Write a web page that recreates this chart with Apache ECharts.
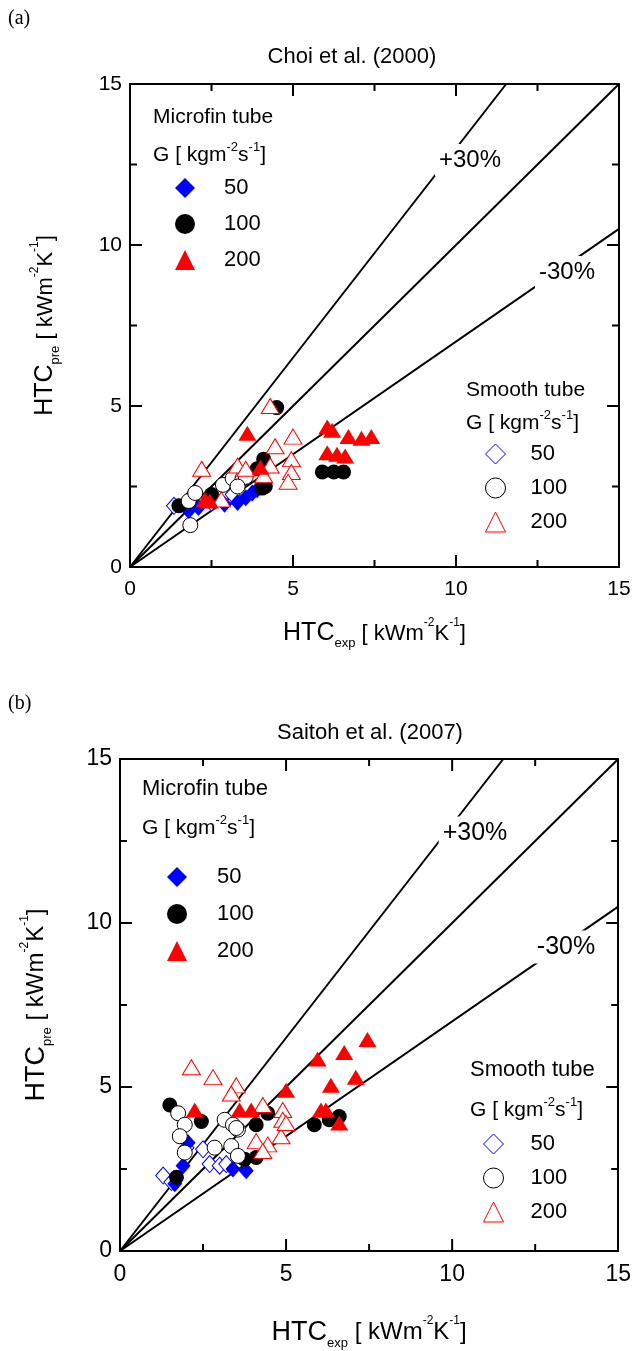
<!DOCTYPE html>
<html>
<head>
<meta charset="utf-8">
<script src="https://cdn.jsdelivr.net/npm/echarts@6/dist/echarts.min.js"></script>
<style>
html, body { margin: 0; padding: 0; background: #fff; }
#chart { width: 634px; height: 1351px; }
</style>
</head>
<body>
<div id="chart"></div>
<script>
// (a) Choi et al. (2000)  -- [HTC_exp, HTC_pre]
var aMicro50 = [[1.8, 1.75], [2.1, 1.85], [2.9, 1.95], [3.3, 2.0], [3.55, 2.15], [3.75, 2.3], [3.9, 2.4]];
var aMicro100 = [[1.5, 1.9], [2.5, 2.25], [3.9, 3.05], [4.1, 3.35], [4.05, 2.45], [4.15, 2.5], [4.5, 4.95], [5.9, 2.95], [6.25, 2.95], [6.55, 2.95]];
var aMicro200 = [[2.3, 2.1], [2.45, 2.05], [3.6, 4.15], [4.0, 3.1], [6.05, 4.35], [6.2, 4.25], [6.7, 4.05], [7.1, 4.0], [7.4, 4.05], [6.05, 3.55], [6.35, 3.5], [6.6, 3.45]];
var aSmooth50 = [[1.35, 1.9], [3.15, 2.25], [2.5, 2.0]];
var aSmooth100 = [[1.85, 1.3], [1.8, 2.05], [2.0, 2.3], [2.85, 2.55], [3.15, 2.75], [3.45, 2.75], [3.55, 2.8], [3.3, 2.5]];
var aSmooth200 = [[4.3, 5.0], [2.2, 3.05], [3.3, 3.15], [3.55, 3.05], [4.1, 2.85], [4.3, 3.15], [4.45, 3.75], [5.0, 4.05], [4.95, 3.35], [4.95, 2.95], [4.85, 2.65], [2.8, 2.1]];

// (b) Saitoh et al. (2007)
var bMicro50 = [[1.65, 2.05], [1.9, 2.6], [2.05, 3.3], [3.4, 2.5], [3.8, 2.45]];
var bMicro100 = [[1.5, 4.45], [1.7, 2.25], [2.45, 3.95], [3.75, 2.8], [4.1, 2.85], [4.1, 3.85], [4.45, 4.2], [5.85, 3.85], [6.6, 4.1], [6.3, 4.0]];
var bMicro200 = [[2.25, 4.3], [3.6, 4.3], [3.95, 4.3], [5.0, 4.9], [5.95, 5.85], [6.75, 6.05], [7.45, 6.45], [7.1, 5.3], [6.35, 5.05], [6.05, 4.3], [6.2, 4.3], [6.6, 3.9]];
var bSmooth50 = [[1.3, 2.3], [1.55, 2.1], [2.0, 3.15], [2.5, 3.1], [2.7, 2.65], [3.0, 2.6], [3.2, 2.65]];
var bSmooth100 = [[1.75, 4.2], [1.95, 3.85], [1.8, 3.5], [1.95, 3.0], [2.85, 3.15], [3.15, 4.0], [3.4, 3.85], [3.55, 3.7], [3.35, 3.2], [3.55, 2.9], [3.5, 3.75]];
var bSmooth200 = [[2.15, 5.6], [2.8, 5.3], [3.5, 5.05], [3.35, 4.8], [4.3, 4.45], [4.9, 4.3], [4.9, 4.0], [4.85, 3.5], [4.1, 3.35], [4.45, 3.25], [4.3, 3.05], [5.0, 3.9]];

// reference lines: y = x, +30 %, -30 %
var perfectLine = [[0, 0], [15, 15]];
var plus30Line = [[0, 0], [11.54, 15]];
var minus30Line = [[0, 0], [15, 10.5]];

var axisMin = 0, axisMax = 15, axisStep = 5;
var majorTicks = [5, 10];
var minorTicks = [2.5, 7.5, 12.5];
var groupLabels = ['50', '100', '200'];

var FONT = 'Liberation Sans, Arial, sans-serif';
var chart = echarts.init(document.getElementById('chart'));

var grids = [
    { left: 130, top: 84, width: 489, height: 483 },
    { left: 120, top: 759, width: 508, height: 502 }
];

var htcRich = function (size) {
    return {
        m: { fontSize: size, fontFamily: FONT, color: '#000', lineHeight: size + 8, verticalAlign: 'middle' },
        n: { fontSize: size - 3, fontFamily: FONT, color: '#000', lineHeight: size + 8, verticalAlign: 'middle' },
        sub: { fontSize: 13, fontFamily: FONT, color: '#000', lineHeight: 13, verticalAlign: 'bottom' },
        sup: { fontSize: 12, fontFamily: FONT, color: '#000', lineHeight: 12, verticalAlign: 'top' }
    };
};

function makeAxes(gi, fs, nameSize, xGap, yGap) {
    var base = function () {
        return {
            type: 'value', gridIndex: gi, min: axisMin, max: axisMax, interval: axisStep,
            axisLine: { show: true, onZero: false, lineStyle: { color: '#000', width: 2 } },
            axisTick: { show: false },
            axisLabel: { show: false },
            splitLine: { show: false }
        };
    };
    var label = { show: true, fontSize: fs, fontFamily: FONT, color: '#000' };
    var xs = [
        Object.assign(base(), {
            position: 'bottom',
            axisLabel: Object.assign({ margin: 12 }, label),
            name: '{m|HTC}{sub|exp}{n| [ kWm}{sup|-2}{n|K}{sup|-1}{n|]}',
            nameLocation: 'middle', nameGap: xGap,
            nameTextStyle: { rich: htcRich(nameSize) }
        }),
        Object.assign(base(), { position: 'top' })
    ];
    var ys = [
        Object.assign(base(), {
            position: 'left',
            axisLabel: Object.assign({ margin: 8 }, label),
            name: '{m|HTC}{sub|pre}{n| [ kWm}{sup|-2}{n|K}{sup|-1}{n|]}',
            nameLocation: 'middle', nameGap: yGap, nameRotate: 90,
            nameTextStyle: { rich: htcRich(nameSize) }
        }),
        Object.assign(base(), { position: 'right' })
    ];
    return { x: xs, y: ys };
}

var axA = makeAxes(0, 21, 25, 50, 68);
var axB = makeAxes(1, 23, 27, 64, 66);

var BLUE = '#0000ff', RED = '#ff0000', BLACK = '#000000';

function filled(name, axisIdx, data, symbol, size, color) {
    return {
        name: name, type: 'scatter', xAxisIndex: axisIdx, yAxisIndex: axisIdx,
        symbol: symbol, symbolSize: size, data: data, z: 3,
        itemStyle: { color: color, opacity: 1 }
    };
}
function hollow(name, axisIdx, data, symbol, size, color) {
    return {
        name: name, type: 'scatter', xAxisIndex: axisIdx, yAxisIndex: axisIdx,
        symbol: symbol, symbolSize: size, data: data, z: 3,
        itemStyle: { color: '#ffffff', borderColor: color, borderWidth: 1, opacity: 1 }
    };
}
function refLine(axisIdx, data) {
    return {
        type: 'line', xAxisIndex: axisIdx, yAxisIndex: axisIdx, data: data,
        showSymbol: false, silent: true, z: 2,
        lineStyle: { color: '#000', width: 2 }
    };
}

// inward ticks on all four frame edges (axisTick.inside does not render here),
// placed through the grid's own scales
function tickSeries(axisIdx) {
    var data = majorTicks.map(function (v) { return [v, v, 1]; })
        .concat(minorTicks.map(function (v) { return [v, v, 0]; }));
    return {
        type: 'custom', coordinateSystem: 'cartesian2d', xAxisIndex: axisIdx, yAxisIndex: axisIdx,
        data: data, silent: true, clip: false, z: 4,
        renderItem: function (params, api) {
            var v = api.value(0);
            var len = api.value(2) ? 12 : 7;
            var b = api.coord([v, axisMin]), t = api.coord([v, axisMax]);
            var l = api.coord([axisMin, v]), r = api.coord([axisMax, v]);
            var st = { stroke: '#000', lineWidth: 2 };
            return {
                type: 'group',
                children: [
                    { type: 'line', shape: { x1: b[0], y1: b[1], x2: b[0], y2: b[1] - len }, style: st },
                    { type: 'line', shape: { x1: t[0], y1: t[1], x2: t[0], y2: t[1] + len }, style: st },
                    { type: 'line', shape: { x1: l[0], y1: l[1], x2: l[0] + len, y2: l[1] }, style: st },
                    { type: 'line', shape: { x1: r[0], y1: r[1], x2: r[0] - len, y2: r[1] }, style: st }
                ]
            };
        }
    };
}

// axis index: 0 = chart (a), 2 = chart (b)
var series = [
    tickSeries(0), tickSeries(2),
    refLine(0, perfectLine), refLine(0, plus30Line), refLine(0, minus30Line),
    refLine(2, perfectLine), refLine(2, plus30Line), refLine(2, minus30Line),

    hollow('a-s-50', 0, aSmooth50, 'diamond', [15, 17], BLUE),
    filled('a-m-50', 0, aMicro50, 'diamond', [15, 17], BLUE),
    filled('a-m-100', 0, aMicro100, 'circle', 15, BLACK),
    hollow('a-s-100', 0, aSmooth100, 'circle', 15, BLACK),
    hollow('a-s-200', 0, aSmooth200, 'triangle', [18, 15], RED),
    filled('a-m-200', 0, aMicro200, 'triangle', [18, 15], RED),

    hollow('b-s-50', 2, bSmooth50, 'diamond', [15, 17], BLUE),
    filled('b-m-50', 2, bMicro50, 'diamond', [15, 17], BLUE),
    filled('b-m-100', 2, bMicro100, 'circle', 15, BLACK),
    hollow('b-s-100', 2, bSmooth100, 'circle', 15, BLACK),
    hollow('b-s-200', 2, bSmooth200, 'triangle', [18, 15], RED),
    filled('b-m-200', 2, bMicro200, 'triangle', [18, 15], RED)
];

function makeLegend(prefix, left, top, gap, border, textPad) {
    return {
        data: groupLabels.map(function (g) { return prefix + g; }),
        orient: 'vertical', left: left, top: top,
        itemWidth: 20, itemHeight: 20, itemGap: gap,
        selectedMode: false, padding: 0,
        itemStyle: { borderWidth: border },
        formatter: function (name) { return name.split('-')[2]; },
        textStyle: { fontSize: 22, fontFamily: FONT, color: '#000', lineHeight: 20, padding: [0, 0, 0, textPad] }
    };
}

var headRich = {
    m: { fontSize: 21, fontFamily: FONT, fill: '#000', lineHeight: 28, verticalAlign: 'middle' },
    sup: { fontSize: 13, fontFamily: FONT, fill: '#000', lineHeight: 13, verticalAlign: 'top' }
};
function txt(x, y, text, size, family, align) {
    return {
        type: 'text', x: x, y: y, z: 10,
        style: { text: text, fontSize: size, fontFamily: family || FONT, fill: '#000', align: align || 'left', verticalAlign: 'middle' }
    };
}
// line labels sit on a white box that masks the reference line behind them
function lineTag(x, y, text, size) {
    return {
        type: 'text', x: x, y: y, z: 10,
        style: { text: text, fontSize: size, fontFamily: FONT, fill: '#000', align: 'center', verticalAlign: 'middle',
            backgroundColor: '#fff', padding: [4, 4, 4, 4] }
    };
}
function gHead(x, y) {
    return {
        type: 'text', x: x, y: y, z: 10,
        style: { text: '{m|G [ kgm}{sup|-2}{m|s}{sup|-1}{m|]}', rich: headRich, align: 'left', verticalAlign: 'middle' }
    };
}

var option = {
    backgroundColor: '#fff',
    animation: false,
    grid: grids,
    xAxis: axA.x.concat(axB.x),
    yAxis: axA.y.concat(axB.y),
    legend: [
        makeLegend('a-m-', 175, 177, 14, 0, 24),
        makeLegend('a-s-', 485, 443, 12, 1, 20),
        makeLegend('b-m-', 167, 866, 15, 0, 25),
        makeLegend('b-s-', 483, 1133, 12, 1, 22)
    ],
    graphic: [
        txt(8, 19, '(a)', 20, 'Liberation Serif, Times New Roman, serif'),
        txt(352, 57, 'Choi et al. (2000)', 22, FONT, 'center'),
        txt(153, 117, 'Microfin tube', 21),
        gHead(153, 155),
        txt(466, 390, 'Smooth tube', 21),
        gHead(466, 423),
        lineTag(470, 160, '+30%', 24),
        lineTag(567, 272, '-30%', 24),

        txt(8, 704, '(b)', 20, 'Liberation Serif, Times New Roman, serif'),
        txt(370, 733, 'Saitoh et al. (2007)', 22, FONT, 'center'),
        txt(142, 789, 'Microfin tube', 22),
        gHead(142, 828),
        txt(470, 1070, 'Smooth tube', 22),
        gHead(470, 1110),
        lineTag(475, 833, '+30%', 25),
        lineTag(566, 947, '-30%', 25)
    ],
    series: series
};

chart.setOption(option);
</script>
</body>
</html>
